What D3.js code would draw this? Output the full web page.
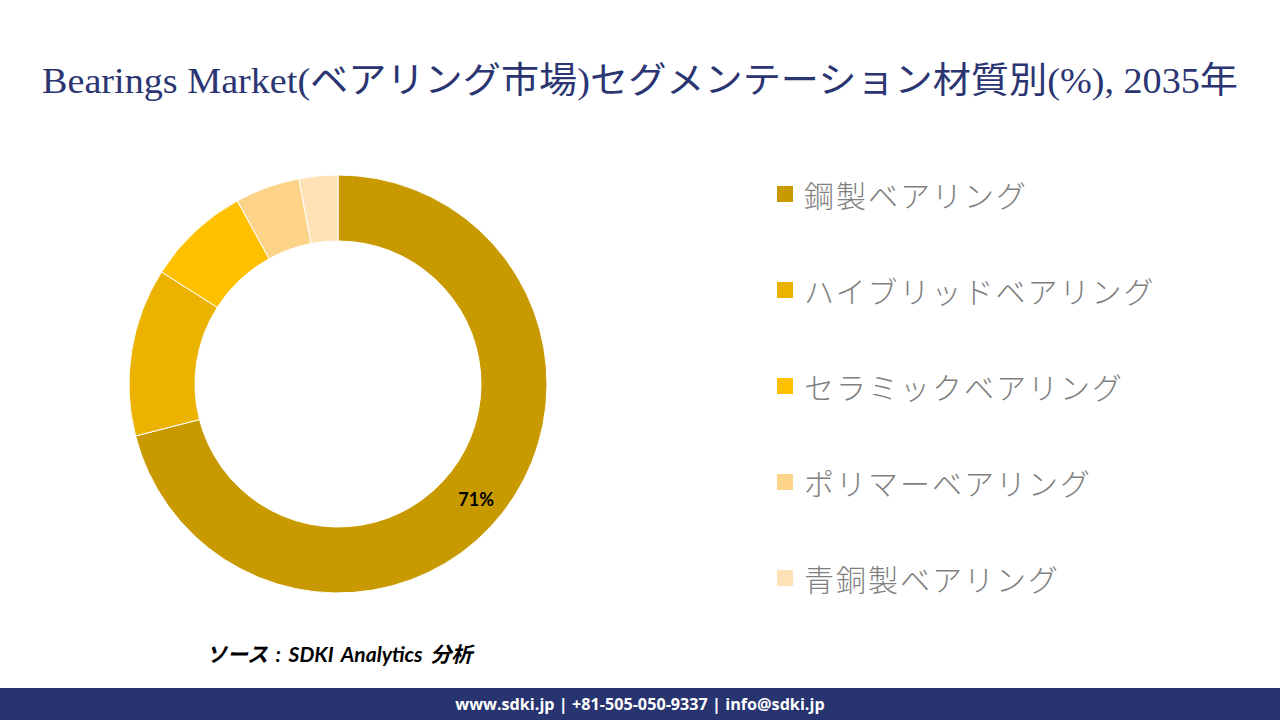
<!DOCTYPE html>
<html>
<head>
<meta charset="utf-8">
<script src="https://cdn.jsdelivr.net/npm/d3@7"></script>
<style>
  html, body { margin: 0; padding: 0; background: #ffffff; }
  svg { display: block; }
</style>
</head>
<body>
<svg id="chart" width="1280" height="720"></svg>
<script>
const categories = ["鋼製ベアリング", "ハイブリッドベアリング", "セラミックベアリング", "ポリマーベアリング", "青銅製ベアリング"];
const values = [71, 13, 8, 5, 3];
const colors = ["#C89A00", "#EBB300", "#FFC000", "#FDD38A", "#FEE2B6"];
const titleText = "Bearings Market(ベアリング市場)セグメンテーション材質別(%), 2035年";
const sourceText = "ソース : SDKI Analytics 分析";
const footerText = "www.sdki.jp | +81-505-050-9337 | info@sdki.jp";

const svg = d3.select("#chart");

// Title
svg.append("text")
  .attr("x", 640).attr("y", 93)
  .attr("text-anchor", "middle")
  .attr("font-family", "'Liberation Serif', 'DejaVu Serif', 'Noto Sans CJK JP', serif")
  .attr("font-size", 36)
  .attr("fill", "#2B3572")
  .attr("textLength", 1196)
  .attr("lengthAdjust", "spacingAndGlyphs")
  .text(titleText);

// Donut
const cx = 338, cy = 384, R = 209, r = 143;
const pie = d3.pie().sort(null).value(d => d)(values);
const arc = d3.arc().innerRadius(r).outerRadius(R);
const g = svg.append("g").attr("transform", `translate(${cx},${cy})`);
g.selectAll("path").data(pie).join("path")
  .attr("d", arc)
  .attr("fill", (d, i) => colors[i])
  .attr("stroke", "#ffffff")
  .attr("stroke-width", 1);

// Label for the largest slice only
g.selectAll("text.lbl").data(pie.filter(d => d.index === 0)).join("text")
  .attr("class", "lbl")
  .attr("transform", d => { const c = arc.centroid(d); return `translate(${c[0] - 1},${c[1] + 7})`; })
  .attr("text-anchor", "middle")
  .attr("dominant-baseline", "central")
  .attr("font-family", "Lato, 'Open Sans', sans-serif")
  .attr("font-weight", "bold")
  .attr("font-size", 18)
  .attr("fill", "#000000")
  .text(d => d.data + "%");

// Legend
const ly = d3.scalePoint().domain(categories).range([194, 578]);
const lg = svg.append("g");
const items = lg.selectAll("g").data(categories).join("g")
  .attr("transform", d => `translate(777, ${ly(d)})`);
items.append("rect")
  .attr("x", 0).attr("y", -8).attr("width", 16).attr("height", 16)
  .attr("fill", (d, i) => colors[i]);
items.append("text")
  .attr("x", 27).attr("y", 0)
  .attr("dominant-baseline", "central")
  .attr("font-family", "'Noto Sans CJK JP', sans-serif")
  .attr("font-weight", 300)
  .attr("font-size", 30)
  .attr("letter-spacing", 2)
  .attr("fill", "#7F7F7F")
  .text(d => d);

// Source
svg.append("text")
  .attr("x", 206).attr("y", 662)
  .attr("xml:space", "preserve")
  .attr("font-family", "Lato, 'Noto Sans CJK JP', sans-serif")
  .attr("font-style", "italic")
  .attr("font-weight", "bold")
  .attr("font-size", 21)
  .attr("word-spacing", 3)
  .attr("fill", "#000000")
  .text(sourceText);

// Footer
svg.append("rect").attr("x", 0).attr("y", 688).attr("width", 1280).attr("height", 32).attr("fill", "#283470");
svg.append("text")
  .attr("x", 640).attr("y", 710)
  .attr("text-anchor", "middle")
  .attr("font-family", "'Open Sans', Lato, sans-serif")
  .attr("font-weight", "bold")
  .attr("font-size", 16.2)
  .attr("fill", "#ffffff")
  .text(footerText);
</script>
</body>
</html>
